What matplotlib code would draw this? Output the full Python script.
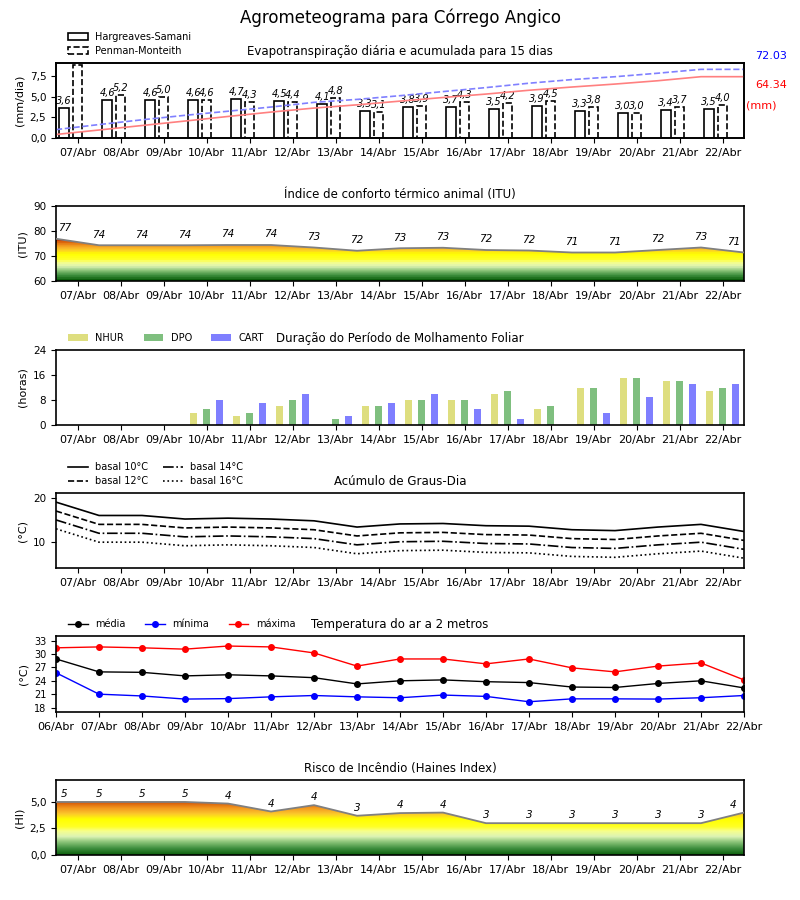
import numpy as np
import matplotlib.pyplot as plt
from matplotlib.colors import LinearSegmentedColormap
from matplotlib.patches import Patch
from matplotlib.ticker import FuncFormatter

plt.rcParams['font.family'] = ['DejaVu Sans']
plt.rcParams['axes.linewidth'] = 1.2

# ---- data ----
days = ['07/Abr', '08/Abr', '09/Abr', '10/Abr', '11/Abr', '12/Abr', '13/Abr', '14/Abr',
        '15/Abr', '16/Abr', '17/Abr', '18/Abr', '19/Abr', '20/Abr', '21/Abr', '22/Abr']
days_temp = ['06/Abr'] + days

et_hs = [3.6, 4.6, 4.6, 4.6, 4.7, 4.5, 4.1, 3.3, 3.8, 3.7, 3.5, 3.9, 3.3, 3.0, 3.4, 3.5]
et_pm = [8.8, 5.2, 5.0, 4.6, 4.3, 4.4, 4.8, 3.1, 3.9, 4.3, 4.2, 4.5, 3.8, 3.0, 3.7, 4.0]
cum_hs = [3.7, 8.4, 13.1, 17.8, 22.6, 27.2, 31.4, 34.8, 38.7, 42.5, 46.1, 50.1, 53.5, 56.6, 60.1, 64.34]
cum_pm = [8.8, 14.1, 19.1, 23.8, 28.1, 32.5, 37.4, 40.5, 44.4, 48.7, 52.9, 57.5, 61.3, 64.3, 68.0, 72.03]

itu = [76.9, 74.3, 74.3, 74.3, 74.4, 74.4, 73.4, 72.1, 73.1, 73.3, 72.4, 72.2,
       71.4, 71.4, 72.4, 73.4, 71.4]

nhur = [0, 0, 0, 4, 3, 6, 0, 6, 8, 8, 10, 5, 12, 15, 14, 11]
dpo = [0, 0, 0, 5, 4, 8, 2, 6, 8, 8, 11, 6, 12, 15, 14, 12]
cart = [0, 0, 0, 8, 7, 10, 3, 7, 10, 5, 2, 0, 4, 9, 13, 13]

gd10 = [19.0, 16.0, 16.0, 15.2, 15.4, 15.2, 14.8, 13.4, 14.1, 14.2, 13.7, 13.6, 12.8, 12.6, 13.4, 14.0, 12.4]
gd12 = [17.0, 14.0, 14.0, 13.2, 13.4, 13.2, 12.8, 11.4, 12.1, 12.2, 11.7, 11.6, 10.8, 10.6, 11.4, 12.0, 10.4]
gd14 = [15.0, 12.0, 12.0, 11.2, 11.4, 11.2, 10.8, 9.4, 10.1, 10.2, 9.7, 9.6, 8.8, 8.6, 9.4, 10.0, 8.4]
gd16 = [13.0, 10.0, 10.0, 9.2, 9.4, 9.2, 8.8, 7.4, 8.1, 8.2, 7.7, 7.6, 6.8, 6.6, 7.4, 8.0, 6.4]

t_med = [28.9, 26.0, 25.9, 25.1, 25.35, 25.1, 24.7, 23.3, 24.0, 24.2, 23.8, 23.6, 22.6, 22.5, 23.4, 24.0, 22.4]
t_min = [25.8, 21.0, 20.6, 19.9, 20.0, 20.4, 20.7, 20.4, 20.2, 20.8, 20.5, 19.3, 19.95, 19.95, 19.9, 20.2, 20.7]
t_max = [31.4, 31.6, 31.4, 31.1, 31.8, 31.6, 30.25, 27.3, 28.9, 28.9, 27.8, 28.9, 26.9, 26.0, 27.3, 28.0, 24.2]

haines = [5.0, 5.0, 5.0, 5.0, 4.85, 4.1, 4.7, 3.7, 3.95, 4.0, 3.0, 3.0, 3.0, 3.0, 3.0, 3.0, 4.0]
haines_lbl = [5, 5, 5, 5, 4, 4, 4, 3, 4, 4, 3, 3, 3, 3, 3, 3, 4]

# ---- helpers ----
ind = np.arange(len(days))               # day centres
edges = np.arange(len(days) + 1) - 0.5   # day boundaries (17 points)

heat = LinearSegmentedColormap.from_list('heat', [
    (0.0, '#0b5e0b'), (0.12, '#3f8f3f'), (0.24, '#8cc57a'), (0.34, '#dcf3b4'),
    (0.44, '#f6ff8c'), (0.52, '#ffff26'), (0.66, '#ffff00'), (0.76, '#fcc72c'),
    (0.86, '#f39a1f'), (0.95, '#dc650c'), (1.0, '#c63c00')])

comma = FuncFormatter(lambda v, p: ('%.1f' % v).replace('.', ','))


def gradient_under(ax, x, y, base, lo, hi, top, cmap):
    # colour goes lo -> hi, saturates above hi; clipped to the area under the curve
    poly = ax.fill_between(x, base, y, facecolor='none', edgecolor='none')
    yy = np.linspace(base, top, 400)
    grad = np.clip((yy - lo) / (hi - lo), 0, 1).reshape(-1, 1)
    im = ax.imshow(grad, cmap=cmap, vmin=0, vmax=1, aspect='auto', origin='lower',
                   extent=[x[0], x[-1], base, top], zorder=1)
    im.set_clip_path(poly.get_paths()[0], transform=ax.transData)


def day_axis(ax, labels=days, pos=ind):
    ax.set_xlim(-0.5, 15.5)
    ax.set_xticks(pos)
    ax.set_xticklabels(labels)
    ax.tick_params(axis='x', labelsize=8)
    ax.tick_params(axis='y', labelsize=7.5)


fig = plt.figure(figsize=(8, 9), dpi=100)
fig.text(0.5, 1 - 18 / 900, 'Agrometeograma para Córrego Angico', ha='center', va='center', fontsize=12)

L, W = 56 / 800, 688 / 800
LEG = (0.012, 1.04)


def panel(top_px, h_px=75):
    return fig.add_axes([L, 1 - (top_px + h_px) / 900, W, h_px / 900])


# ---- evapotranspiration ----
ax = panel(63)
ax.bar(ind - 0.31, et_hs, 0.22, facecolor='white', edgecolor='black', lw=1.2)
ax.bar(ind, et_pm, 0.22, facecolor='white', edgecolor='black', lw=1.2, linestyle='--')
for i in ind:
    for xx, v in ((i - 0.31, et_hs[i]), (i, et_pm[i])):
        if v < 8:
            ax.text(xx, v + 0.25, ('%.1f' % v).replace('.', ','), ha='center', va='bottom',
                    fontsize=7, style='italic')
ax.set_ylim(0, 9.07)
ax.set_yticks([0, 2.5, 5.0, 7.5])
ax.yaxis.set_major_formatter(comma)
ax.set_ylabel('(mm/dia)', fontsize=8)
day_axis(ax)
ax.set_title('Evapotranspiração diária e acumulada para 15 dias', fontsize=8.5)
ax.legend([Patch(facecolor='white', edgecolor='black', lw=1.2),
           Patch(facecolor='white', edgecolor='black', lw=1.2, linestyle='--')],
          ['Hargreaves-Samani', 'Penman-Monteith'], loc='lower left', bbox_to_anchor=LEG,
          frameon=False, fontsize=7, borderaxespad=0, handlelength=2, labelspacing=0.4)
ax2 = ax.twinx()
ax2.plot(list(edges[:-1]) + [edges[-1]], cum_pm + [cum_pm[-1]], '--', color='#8080ff', lw=1.2)
ax2.plot(list(edges[:-1]) + [edges[-1]], cum_hs + [cum_hs[-1]], '-', color='#ff8080', lw=1.2)
ax2.set_ylim(0, 78.7)
ax2.set_yticks([])
ax.text(1.016, 1.093, '%.2f' % cum_pm[-1], transform=ax.transAxes, color='blue', fontsize=8, va='center')
ax.text(1.016, 0.707, '%.2f' % cum_hs[-1], transform=ax.transAxes, color='red', fontsize=8, va='center')
ax.text(1.003, 0.44, '(mm)', transform=ax.transAxes, color='red', fontsize=8, va='center')

# ---- ITU ----
ax = panel(206)
gradient_under(ax, edges, itu, 60, 60, 76.8, 80, heat.resampled(20))
ax.plot(edges, itu, color='gray', lw=1.3, zorder=3)
n = len(itu)
for k, v in enumerate(itu):
    xx = edges[k] + (0.2 if k == 0 else (-0.25 if k == n - 1 else 0))
    ax.annotate('%d' % round(v), (xx, v), xytext=(0, 4), textcoords='offset points',
                ha='center', va='bottom', fontsize=7.5, style='italic')
ax.set_ylim(60, 90)
ax.set_yticks([60, 70, 80, 90])
ax.set_ylabel('(ITU)', fontsize=8)
day_axis(ax)
ax.set_title('Índice de conforto térmico animal (ITU)', fontsize=8.5)

# ---- leaf wetness ----
ax = panel(350)
ax.bar(ind - 0.3, nhur, 0.16, color='y', alpha=0.5, label='NHUR')
ax.bar(ind, dpo, 0.16, color='g', alpha=0.5, label='DPO')
ax.bar(ind + 0.3, cart, 0.16, color='b', alpha=0.5, label='CART')
ax.set_ylim(0, 24)
ax.set_yticks([0, 8, 16, 24])
ax.set_ylabel('(horas)', fontsize=8)
day_axis(ax)
ax.set_title('Duração do Período de Molhamento Foliar', fontsize=8.5)
ax.legend(loc='lower left', bbox_to_anchor=LEG, ncol=3, frameon=False, fontsize=7,
          borderaxespad=0, columnspacing=2)

# ---- degree days ----
ax = panel(493)
ax.plot(edges, gd10, '-', color='black', lw=1.2, label='basal 10°C')
ax.plot(edges, gd12, '--', color='black', lw=1.2, label='basal 12°C')
ax.plot(edges, gd14, '-.', color='black', lw=1.2, label='basal 14°C')
ax.plot(edges, gd16, ':', color='black', lw=1.2, label='basal 16°C')
ax.set_ylim(4.2, 21.05)
ax.set_yticks([10, 20])
ax.set_ylabel('(°C)', fontsize=8)
day_axis(ax)
ax.set_title('Acúmulo de Graus-Dia', fontsize=8.5)
ax.legend(loc='lower left', bbox_to_anchor=LEG, ncol=2, frameon=False, fontsize=7,
          borderaxespad=0, labelspacing=0.4, columnspacing=1.5)

# ---- temperature ----
ax = panel(636, 76)
ax.plot(edges, t_med, '-o', color='black', lw=1, ms=4, label='média')
ax.plot(edges, t_min, '-o', color='blue', lw=1, ms=4, label='mínima')
ax.plot(edges, t_max, '-o', color='red', lw=1, ms=4, label='máxima')
ax.set_ylim(17, 34.05)
ax.set_yticks([18, 21, 24, 27, 30, 33])
ax.set_ylabel('(°C)', fontsize=8)
day_axis(ax, days_temp, edges)
ax.tick_params(axis='y', labelsize=7)
ax.set_title('Temperatura do ar a 2 metros', fontsize=8.5)
ax.legend(loc='lower left', bbox_to_anchor=LEG, ncol=3, frameon=False, fontsize=7,
          borderaxespad=0, columnspacing=2)

# ---- Haines ----
ax = panel(780)
gradient_under(ax, edges, haines, 0, 0, 5.1, 6, heat)
ax.plot(edges, haines, color='gray', lw=1.3, zorder=3)
for k, v in enumerate(haines):
    xx = edges[k] + (0.2 if k == 0 else (-0.25 if k == n - 1 else 0))
    ax.annotate('%d' % haines_lbl[k], (xx, v), xytext=(0, 2), textcoords='offset points',
                ha='center', va='bottom', fontsize=7.5, style='italic')
ax.set_ylim(0, 7.07)
ax.set_yticks([0, 2.5, 5.0])
ax.yaxis.set_major_formatter(comma)
ax.set_ylabel('(HI)', fontsize=8)
day_axis(ax)
ax.set_title('Risco de Incêndio (Haines Index)', fontsize=8.5)

plt.savefig('out.png', dpi=100)
